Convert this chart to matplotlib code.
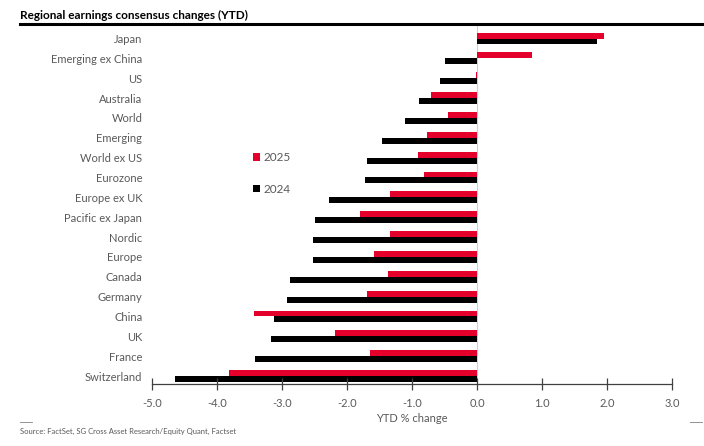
import numpy as np
import matplotlib
matplotlib.use("Agg")
import matplotlib.pyplot as plt
from matplotlib.lines import Line2D

regions = [
    "Japan", "Emerging ex China", "US", "Australia", "World", "Emerging",
    "World ex US", "Eurozone", "Europe ex UK", "Pacific ex Japan", "Nordic",
    "Europe", "Canada", "Germany", "China", "UK", "France", "Switzerland",
]
ytd_2025 = [1.96, 0.84, -0.02, -0.71, -0.44, -0.77, -0.91, -0.81, -1.34, -1.80,
            -1.34, -1.58, -1.37, -1.69, -3.43, -2.18, -1.65, -3.82]
ytd_2024 = [1.85, -0.50, -0.57, -0.89, -1.11, -1.46, -1.69, -1.72, -2.28, -2.49,
            -2.53, -2.53, -2.88, -2.93, -3.12, -3.17, -3.42, -4.64]
x_ticks = [-5.0, -4.0, -3.0, -2.0, -1.0, 0.0, 1.0, 2.0, 3.0]

RED = "#E4002B"
GREY_TEXT = "#595959"

plt.rcParams["font.family"] = ["Lato", "DejaVu Sans"]

fig = plt.figure(figsize=(7.04, 4.46), dpi=100)
ax = fig.add_axes([152 / 704, 1 - 384 / 446, 520 / 704, 358 / 446])

y = np.arange(len(regions))
h = 0.30
ax.barh(y - h / 2, ytd_2025, height=h, color=RED, label="2025")
ax.barh(y + h / 2, ytd_2024, height=h, color="black", label="2024")

ax.axvline(0, color="#d0d0d0", lw=0.8, zorder=0)

ax.set_xlim(-5.0, 3.0)
ax.set_ylim(len(regions) - 0.6, -0.63)
ax.set_xticks(x_ticks)
ax.set_xticklabels([f"{v:.1f}" for v in x_ticks])
ax.set_yticks(y)
ax.set_yticklabels(regions)

for side in ["top", "right", "left"]:
    ax.spines[side].set_visible(False)
ax.spines["bottom"].set_color("#404040")
ax.spines["bottom"].set_linewidth(0.9)

ax.tick_params(axis="x", direction="inout", length=8, width=0.9, color="#404040",
               labelsize=8, labelcolor=GREY_TEXT, pad=6)
ax.tick_params(axis="y", length=0, labelsize=8, labelcolor=GREY_TEXT, pad=7)
ax.set_xlabel("YTD % change", fontsize=8, color=GREY_TEXT, labelpad=3)

fig.legend(loc="upper left", bbox_to_anchor=(253 / 704, 1 - 152 / 446), frameon=False,
           fontsize=8.5, labelcolor=GREY_TEXT, handlelength=0.6, handleheight=0.6,
           labelspacing=1.75, handletextpad=0.3, borderaxespad=0, borderpad=0)

fig.text(20 / 704, 1 - 15 / 446, "Regional earnings consensus changes (YTD)",
         fontsize=8.5, fontweight="bold", va="center", ha="left")
fig.add_artist(Line2D([20 / 704, 1.0], [1 - 24 / 446] * 2, color="black", lw=2.2))

fig.add_artist(Line2D([20 / 704, 32 / 704], [1 - 422 / 446] * 2, color="#808080", lw=0.6))
fig.add_artist(Line2D([690 / 704, 702 / 704], [1 - 422 / 446] * 2, color="#808080", lw=0.6))
fig.text(20 / 704, 1 - 431 / 446,
         "Source: FactSet, SG Cross Asset Research/Equity Quant, Factset",
         fontsize=5.5, color=GREY_TEXT, va="center", ha="left")

fig.savefig("out.png", dpi=100)
